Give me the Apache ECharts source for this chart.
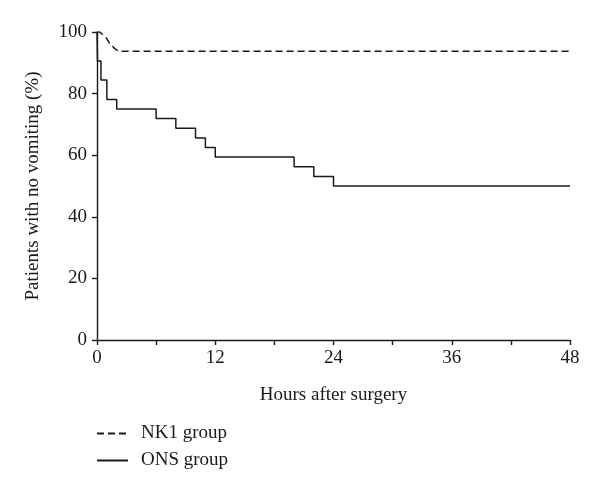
<!DOCTYPE html>
<html>
<head>
<meta charset="utf-8">
<script src="https://cdn.jsdelivr.net/npm/echarts@6/dist/echarts.min.js"></script>
<style>
html,body{margin:0;padding:0;background:#fff;}
#chart{width:600px;height:490px;}
</style>
</head>
<body>
<div id="chart"></div>
<script>
const seriesNames = ['NK1 group', 'ONS group'];
const nk1Times  = [0, 0.3, 1.0, 1.3, 1.8, 2.2, 48];
const nk1Values = [100, 100, 97.8, 96.2, 94.6, 93.75, 93.75];
const onsTimes  = [0, 0.05, 0.4, 1, 2, 6, 8, 10, 11, 12, 20, 22, 24, 48];
const onsValues = [100, 90.6, 84.4, 78.1, 75, 71.9, 68.75, 65.6, 62.5, 59.4, 56.25, 53.1, 50, 50];
const xTicks = [0, 12, 24, 36, 48];
const yTicks = [0, 20, 40, 60, 80, 100];

const FONT = '"Liberation Serif", "DejaVu Serif", serif';
const INK = '#1a1a1a';

const nk1Data = nk1Times.map((t, i) => [t, nk1Values[i]]);
const onsData = onsTimes.map((t, i) => [t, onsValues[i]]);

const chart = echarts.init(document.getElementById('chart'), null, {renderer: 'canvas'});
chart.setOption({
  animation: false,
  backgroundColor: '#fff',
  grid: {left: 97, right: 30, top: 32, bottom: 150, containLabel: false},
  legend: {
    orient: 'vertical',
    left: 96,
    top: 424,
    itemWidth: 31,
    itemHeight: 14,
    itemGap: 8,
    padding: 0,
    data: seriesNames,
    itemStyle: {opacity: 0},
    textStyle: {fontFamily: FONT, fontSize: 19, color: INK, padding: [0, 0, 0, 8]}
  },
  xAxis: {
    type: 'value',
    min: 0, max: 48, interval: 6,
    name: 'Hours after surgery',
    nameLocation: 'middle',
    nameGap: 46,
    nameTextStyle: {fontFamily: FONT, fontSize: 19, color: INK},
    axisLine: {lineStyle: {color: INK, width: 1.4}},
    axisTick: {show: true, length: 5, lineStyle: {color: INK, width: 1.4}},
    splitLine: {show: false},
    axisLabel: {
      fontFamily: FONT, fontSize: 19, color: INK, margin: 9,
      formatter: v => xTicks.indexOf(v) >= 0 ? String(v) : ''
    }
  },
  yAxis: {
    type: 'value',
    min: 0, max: 100, interval: 20,
    name: 'Patients with no vomiting (%)',
    nameLocation: 'middle',
    nameGap: 54,
    nameRotate: 90,
    nameTextStyle: {fontFamily: FONT, fontSize: 19, color: INK},
    axisLine: {show: true, lineStyle: {color: INK, width: 1.4}},
    axisTick: {show: true, length: 5, lineStyle: {color: INK, width: 1.4}},
    splitLine: {show: false},
    axisLabel: {
      fontFamily: FONT, fontSize: 19, color: INK, margin: 10,
      formatter: v => yTicks.indexOf(v) >= 0 ? String(v) : ''
    }
  },
  series: [
    {
      name: seriesNames[0],
      type: 'line',
      data: nk1Data,
      symbol: 'none',
      smooth: false,
      lineStyle: {color: INK, width: 1.5, type: [7, 4]},
      itemStyle: {color: INK}
    },
    {
      name: seriesNames[1],
      type: 'line',
      step: 'end',
      data: onsData,
      symbol: 'none',
      lineStyle: {color: INK, width: 1.5, type: 'solid'},
      itemStyle: {color: INK}
    }
  ]
});
</script>
</body>
</html>
